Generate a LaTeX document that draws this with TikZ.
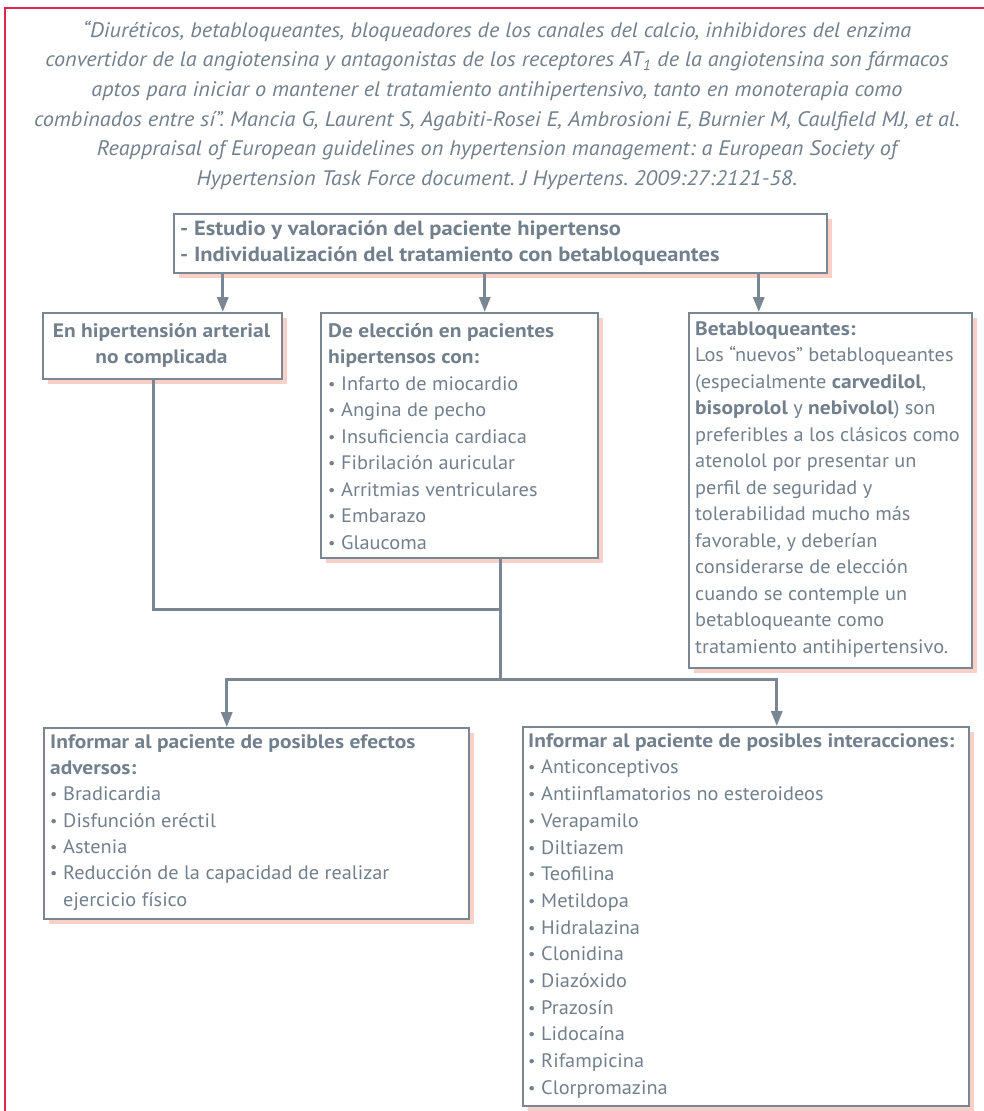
\documentclass[tikz,border=0pt]{standalone}
\usepackage{fontspec}
\setmainfont{PT Sans}[FakeStretch=1.043, BoldFeatures={FakeStretch=1.10}, ItalicFeatures={FakeStretch=1.06}]
\usetikzlibrary{arrows.meta,shadows}
\definecolor{txtc}{HTML}{72808D}
\definecolor{edgec}{HTML}{7A8692}
\definecolor{shadowc}{HTML}{F8D0C8}
\definecolor{framec}{HTML}{E0284F}
\newcommand{\bul}{\makebox[13pt][l]{\raisebox{0.1ex}{\scalebox{0.8}{•}}}}
\frenchspacing
\begin{document}
\begin{tikzpicture}[x=1pt,y=-1pt,
  box/.style={draw=edgec, line width=1.5pt, fill=white, anchor=north west, inner sep=0pt,
    drop shadow={shadow xshift=5pt, shadow yshift=-5pt, fill=shadowc, opacity=1}},
  txtnode/.style={text=txtc, anchor=north west, inner sep=0pt, align=left},
  conn/.style={draw=edgec, line width=3pt, line join=miter},
  arr/.style={conn, -{Triangle[length=15pt,width=11pt]}}]
\useasboundingbox (0,0) rectangle (984,1111);
\fill[white] (0,0) rectangle (984,1111);
\draw[framec, line width=2.5pt] (984,8) -- (5,8) -- (5,1111);

\node[txtnode, anchor=north, align=center, font=\itshape\fontsize{21}{29.6}\selectfont] (quote) at (497,20)
 {\rule{0pt}{17pt}“Diuréticos, betabloqueantes, bloqueadores de los canales del calcio, inhibidores del enzima\\
  convertidor de la angiotensina y antagonistas de los receptores AT\textsubscript{1} de la angiotensina son fármacos\\
  aptos para iniciar o mantener el tratamiento antihipertensivo, tanto en monoterapia como\\
  combinados entre sí”. Mancia G, Laurent S, Agabiti-Rosei E, Ambrosioni E, Burnier M, Caulfield MJ, et al.\\
  Reappraisal of European guidelines on hypertension management: a European Society of\\
  Hypertension Task Force document. J Hypertens. 2009:27:2121-58.};

% boxes
\node[box, minimum width=653pt, minimum height=59pt] (top) at (173,213) {};
\node[box, minimum width=239pt, minimum height=66pt] (left) at (42,312) {};
\node[box, minimum width=277pt, minimum height=245pt] (mid) at (320,312) {};
\node[box, minimum width=283pt, minimum height=355pt] (right) at (688,312) {};
\node[box, minimum width=425pt, minimum height=191pt] (bl) at (43,727) {};
\node[box, minimum width=446pt, minimum height=379pt] (br) at (522,726) {};

% texts
\node[txtnode, font=\bfseries\fontsize{20.5}{26}\selectfont] (topT) at (180,219)
 {\rule{0pt}{16pt}- Estudio y valoración del paciente hipertenso\\- Individualización del tratamiento con betabloqueantes};
\node[txtnode, anchor=north, align=center, font=\bfseries\fontsize{19.5}{26}\selectfont] (leftT) at (161.5,321)
 {\rule{0pt}{16pt}En hipertensión arterial\\no complicada};
\node[txtnode, font=\fontsize{19.5}{26.5}\selectfont] (midT) at (328,321)
 {\rule{0pt}{16pt}\textbf{De elección en pacientes}\\
  \textbf{hipertensos con:}\\
  \bul Infarto de miocardio\\
  \bul Angina de pecho\\
  \bul Insuficiencia cardiaca\\
  \bul Fibrilación auricular\\
  \bul Arritmias ventriculares\\
  \bul Embarazo\\
  \bul Glaucoma};
\node[txtnode, font=\fontsize{19.5}{26.5}\selectfont] (rightT) at (695,319)
 {\rule{0pt}{16pt}\textbf{Betabloqueantes:}\\
  Los “nuevos” betabloqueantes\\
  (especialmente \textbf{carvedilol},\\
  \textbf{bisoprolol} y \textbf{nebivolol}) son\\
  preferibles a los clásicos como\\
  atenolol por presentar un\\
  perfil de seguridad y\\
  tolerabilidad mucho más\\
  favorable, y deberían\\
  considerarse de elección\\
  cuando se contemple un\\
  betabloqueante como\\
  tratamiento antihipertensivo.};
\node[txtnode, font=\fontsize{19.5}{26.3}\selectfont] (blT) at (50,732)
 {\rule{0pt}{16pt}\textbf{Informar al paciente de posibles efectos}\\
  \textbf{adversos:}\\
  \bul Bradicardia\\
  \bul Disfunción eréctil\\
  \bul Astenia\\
  \bul Reducción de la capacidad de realizar\\
  \hspace*{13pt}ejercicio físico};
\node[txtnode, font=\fontsize{19.5}{26.7}\selectfont] (brT) at (528,731)
 {\rule{0pt}{16pt}\textbf{Informar al paciente de posibles interacciones:}\\
  \bul Anticonceptivos\\
  \bul Antiinflamatorios no esteroideos\\
  \bul Verapamilo\\
  \bul Diltiazem\\
  \bul Teofilina\\
  \bul Metildopa\\
  \bul Hidralazina\\
  \bul Clonidina\\
  \bul Diazóxido\\
  \bul Prazosín\\
  \bul Lidocaína\\
  \bul Rifampicina\\
  \bul Clorpromazina};

% connectors
\coordinate (j1) at (500,609);
\coordinate (j2) at (500,679);
\draw[arr] ([xshift=60.5pt]left.north |- top.south) -- ([xshift=60.5pt]left.north);
\draw[arr] ([xshift=25.5pt]mid.north |- top.south) -- ([xshift=25.5pt]mid.north);
\draw[arr] ([xshift=-71.5pt]right.north |- top.south) -- ([xshift=-71.5pt]right.north);
\draw[conn] ([xshift=-8.5pt]left.south) |- (j1);
\draw[conn] (mid.south -| j1) -- (j2);
\draw[arr] (j2) -| ([xshift=-29.5pt]bl.north);
\draw[arr] (j2) -| ([xshift=31pt]br.north);
\end{tikzpicture}
\end{document}
